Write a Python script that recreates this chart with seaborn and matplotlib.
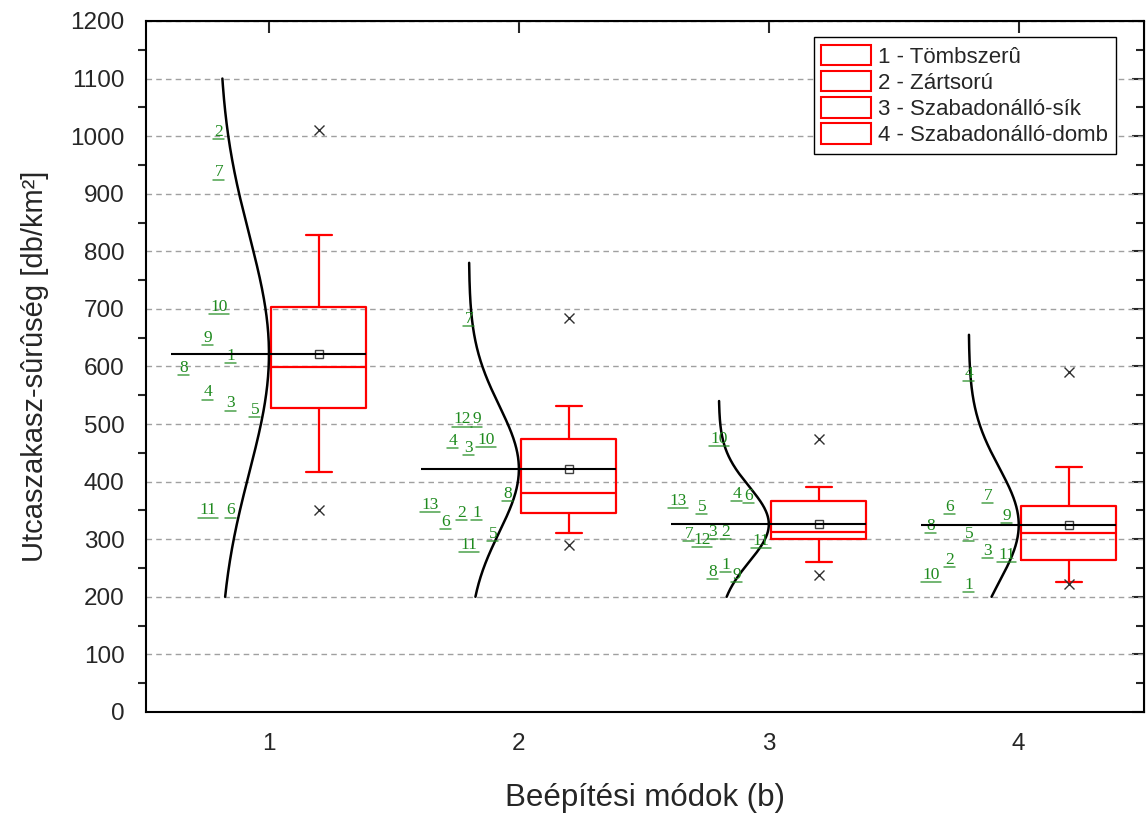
import numpy as np
import matplotlib.pyplot as plt
import seaborn as sns
from matplotlib.patches import Patch
from matplotlib.ticker import MultipleLocator

# categories
cats = [1, 2, 3, 4]
legend_labels = ["1 - Tömbszerû", "2 - Zártsorú", "3 - Szabadonálló-sík", "4 - Szabadonálló-domb"]

# labelled points: id and value
g1_ids = [2, 7, 10, 9, 1, 8, 4, 3, 5, 11, 6]
g1_vals = [1008, 937, 703, 649, 618, 598, 555, 536, 525, 350, 350]
g2_ids = [7, 12, 9, 4, 3, 10, 8, 13, 6, 2, 1, 5, 11]
g2_vals = [683, 508, 508, 471, 459, 473, 379, 360, 330, 346, 346, 309, 290]
g3_ids = [10, 4, 6, 13, 5, 7, 12, 3, 2, 11, 8, 1, 9]
g3_vals = [474, 379, 375, 367, 356, 309, 299, 313, 313, 297, 243, 256, 238]
g4_ids = [4, 7, 6, 9, 8, 5, 3, 11, 2, 10, 1]
g4_vals = [587, 375, 356, 341, 323, 309, 280, 273, 264, 238, 221]

# horizontal offsets of the labels (left of the category)
g1_dx = [-0.2, -0.2, -0.2, -0.244, -0.152, -0.34, -0.244, -0.152, -0.056, -0.244, -0.152]
g2_dx = [-0.2, -0.228, -0.168, -0.264, -0.2, -0.132, -0.044, -0.356, -0.292, -0.228, -0.168, -0.104, -0.2]
g3_dx = [-0.2, -0.128, -0.08, -0.364, -0.268, -0.32, -0.268, -0.224, -0.172, -0.032, -0.224, -0.172, -0.128]
g4_dx = [-0.2, -0.124, -0.276, -0.048, -0.352, -0.2, -0.124, -0.048, -0.276, -0.352, -0.2]

# box statistics
box_q1 = [528, 346, 300, 264]
box_med = [599, 380, 313, 311]
box_q3 = [703, 474, 366, 358]
box_whislo = [417, 311, 260, 226]
box_whishi = [829, 531, 391, 426]
box_min = [351, 290, 238, 222]
box_max = [1010, 684, 474, 590]
box_mean = [622, 422, 326, 325]

# y range of the fitted normal curves
curve_lo = [200, 200, 200, 200]
curve_hi = [1100, 780, 540, 655]

sns.set_style("white")
plt.rcParams['font.family'] = ['Liberation Sans', 'DejaVu Sans']

fig = plt.figure(figsize=(11.46, 8.16), dpi=100)
ax = fig.add_axes([0.1274, 0.1275, 0.8706, 0.8468])

green = '#1f8a1f'
ids_all = [g1_ids, g2_ids, g3_ids, g4_ids]
vals_all = [g1_vals, g2_vals, g3_vals, g4_vals]
dx_all = [g1_dx, g2_dx, g3_dx, g4_dx]

# normal curves
for i, c in enumerate(cats):
    sd = np.std(vals_all[i], ddof=1)
    ys = np.linspace(curve_lo[i], curve_hi[i], 300)
    xs = c - 0.2 + 0.2 * np.exp(-(ys - box_mean[i]) ** 2 / (2 * sd ** 2))
    sns.lineplot(x=xs, y=ys, sort=False, estimator=None, color='black', lw=1.8, ax=ax, zorder=3)

# underlined point labels
for i, c in enumerate(cats):
    for n, v, d in zip(ids_all[i], vals_all[i], dx_all[i]):
        ax.text(c + d, v, str(n), color=green, fontsize=12.5, family='Liberation Serif',
                ha='center', va='center', zorder=4)
        half = 0.017 * len(str(n)) + 0.005
        ax.plot([c + d - half, c + d + half], [v - 12.5, v - 12.5], color=green,
                lw=1.1, alpha=0.8, zorder=4)

# boxes
stats = []
for i in range(4):
    stats.append(dict(med=box_med[i], q1=box_q1[i], q3=box_q3[i],
                      whislo=box_whislo[i], whishi=box_whishi[i],
                      mean=box_mean[i], fliers=[box_min[i], box_max[i]]))
red_line = dict(color='red', lw=1.6)
ax.bxp(stats, positions=[c + 0.2 for c in cats], widths=0.38, capwidths=0.104,
       showmeans=True, boxprops=red_line, whiskerprops=red_line, capprops=red_line,
       medianprops=red_line,
       meanprops=dict(marker='s', mfc='none', mec='#404040', ms=6, mew=1),
       flierprops=dict(marker='x', mec='#303030', ms=7, mew=1), manage_ticks=False)

ax.hlines(box_mean, [c - 0.39 for c in cats], [c + 0.39 for c in cats],
          color='black', lw=1.5, zorder=5)

# axes
ax.set_xlim(0.508, 4.5)
ax.set_ylim(0, 1200)
ax.set_xticks(cats)
ax.set_xticklabels([str(c) for c in cats])
ax.yaxis.set_major_locator(MultipleLocator(100))
ax.yaxis.set_minor_locator(MultipleLocator(50))
ax.yaxis.grid(True, which='major', ls=(0, (4, 3)), color='#a0a0a0', lw=1)
ax.set_axisbelow(True)
ax.tick_params(axis='both', which='major', direction='out', length=8.5, width=1.5,
               labelsize=17.5, color='black', pad=7)
ax.tick_params(axis='y', which='minor', direction='out', length=5.5, width=1.5, left=True)
for s in ax.spines.values():
    s.set_linewidth(1.5)
    s.set_color('black')

sec_y = ax.secondary_yaxis('right')
sec_y.yaxis.set_major_locator(MultipleLocator(100))
sec_y.yaxis.set_minor_locator(MultipleLocator(50))
sec_y.tick_params(which='major', direction='in', length=8.5, width=1.5, labelright=False)
sec_y.tick_params(which='minor', direction='in', length=5.5, width=1.5, right=True)
sec_x = ax.secondary_xaxis('top')
sec_x.set_xticks(cats)
sec_x.tick_params(which='major', direction='in', length=8.5, width=1.5, labeltop=False)

ax.set_xlabel("Beépítési módok (b)", fontsize=22.5, labelpad=20)
ax.set_ylabel("Utcaszakasz-sûrûség [db/km²]", fontsize=21, labelpad=15)

handles = [Patch(facecolor='white', edgecolor='red', lw=1.5) for _ in legend_labels]
leg = ax.legend(handles, legend_labels, loc='upper right', bbox_to_anchor=(0.972, 0.977),
                borderaxespad=0, fontsize=16, handlelength=2.25, handleheight=1.05,
                labelspacing=0.15, handletextpad=0.3, fancybox=False, framealpha=1,
                edgecolor='black', borderpad=0.35)
leg.get_frame().set_linewidth(1)

fig.savefig("out.png", dpi=100)
plt.close(fig)
